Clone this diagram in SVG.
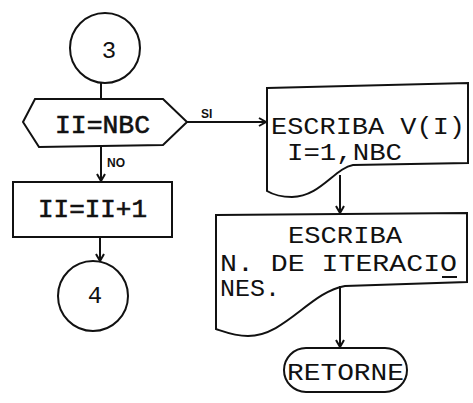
<svg xmlns="http://www.w3.org/2000/svg" width="473" height="403" viewBox="0 0 473 403">
<style>
.s{fill:none;stroke:#111;stroke-width:2}
.t{font-family:"Liberation Mono","DejaVu Sans Mono",monospace;fill:#111;font-size:24px}
.b{font-family:"Liberation Mono","DejaVu Sans Mono",monospace;fill:#111;stroke:#111;stroke-width:0.6;font-size:26px}
.l{font-family:"Liberation Sans",Arial,sans-serif;fill:#111;font-size:12px;font-weight:bold}
</style>
<defs>
<marker id="ah" markerWidth="10" markerHeight="10" refX="8" refY="5" orient="auto" markerUnits="userSpaceOnUse">
<path d="M1,1 L8,5 L1,9" fill="none" stroke="#111" stroke-width="2"/>
</marker>
</defs>
<rect width="473" height="403" fill="#fff"/>
<g id="connectors">
<path class="s" d="M101,83 L101,99"/>
<path class="s" d="M187,122 L266,122" marker-end="url(#ah)"/>
<path class="s" d="M101,147 L101,181" marker-end="url(#ah)"/>
<path class="s" d="M100,237 L100,261" marker-end="url(#ah)"/>
<path class="s" d="M340,175 L340,213" marker-end="url(#ah)"/>
<path class="s" d="M340,286 L340,347" marker-end="url(#ah)"/>
<text class="l" x="201" y="118">SI</text>
<text class="l" x="107" y="167" font-size="10">NO</text>
</g>
<g id="c3">
<circle class="s" cx="105" cy="48" r="35"/>
<text class="t" x="109" y="58" font-size="30" text-anchor="middle">3</text>
</g>
<g id="dec">
<path class="s" d="M35,99 L163,99 L187,122 L163,145 L39,147 L23,122 Z"/>
<text class="b" x="55" y="133" textLength="95" lengthAdjust="spacingAndGlyphs">II=NBC</text>
</g>
<g id="inc">
<rect class="s" x="13" y="182" width="159" height="55"/>
<text class="b" x="38" y="217" textLength="109" lengthAdjust="spacingAndGlyphs">II=II+1</text>
</g>
<g id="c4">
<circle class="s" cx="93" cy="296" r="35"/>
<text class="t" x="95" y="303" font-size="30" text-anchor="middle">4</text>
</g>
<g id="doc1">
<path class="s" d="M267,88 L468,83 L468,163 L353,165 C335,168 320,197 292,197 C280,197 272,194 267,191 Z"/>
<text class="t" x="271" y="134" textLength="194" lengthAdjust="spacingAndGlyphs">ESCRIBA V(I)</text>
<text class="t" x="287" y="160" textLength="115" lengthAdjust="spacingAndGlyphs">I=1,NBC</text>
</g>
<g id="doc2">
<path class="s" d="M216,215 L467,213 L467,282 L345,286 C310,292 285,336 248,336 C235,336 225,332 216,329 Z"/>
<text class="t" x="288" y="243" textLength="114" lengthAdjust="spacingAndGlyphs">ESCRIBA</text>
<text class="t" x="220" y="271" font-size="22" textLength="237" lengthAdjust="spacingAndGlyphs">N. DE ITERACIO</text>
<path class="s" d="M442,277 L457,277"/>
<text class="t" x="220" y="296" font-size="22" textLength="60" lengthAdjust="spacingAndGlyphs">NES.</text>
</g>
<g id="ret">
<rect class="s" x="284" y="348" width="123" height="44" rx="22" ry="22"/>
<text class="t" x="287" y="380" font-size="27" textLength="117" lengthAdjust="spacingAndGlyphs">RETORNE</text>
</g>
</svg>
